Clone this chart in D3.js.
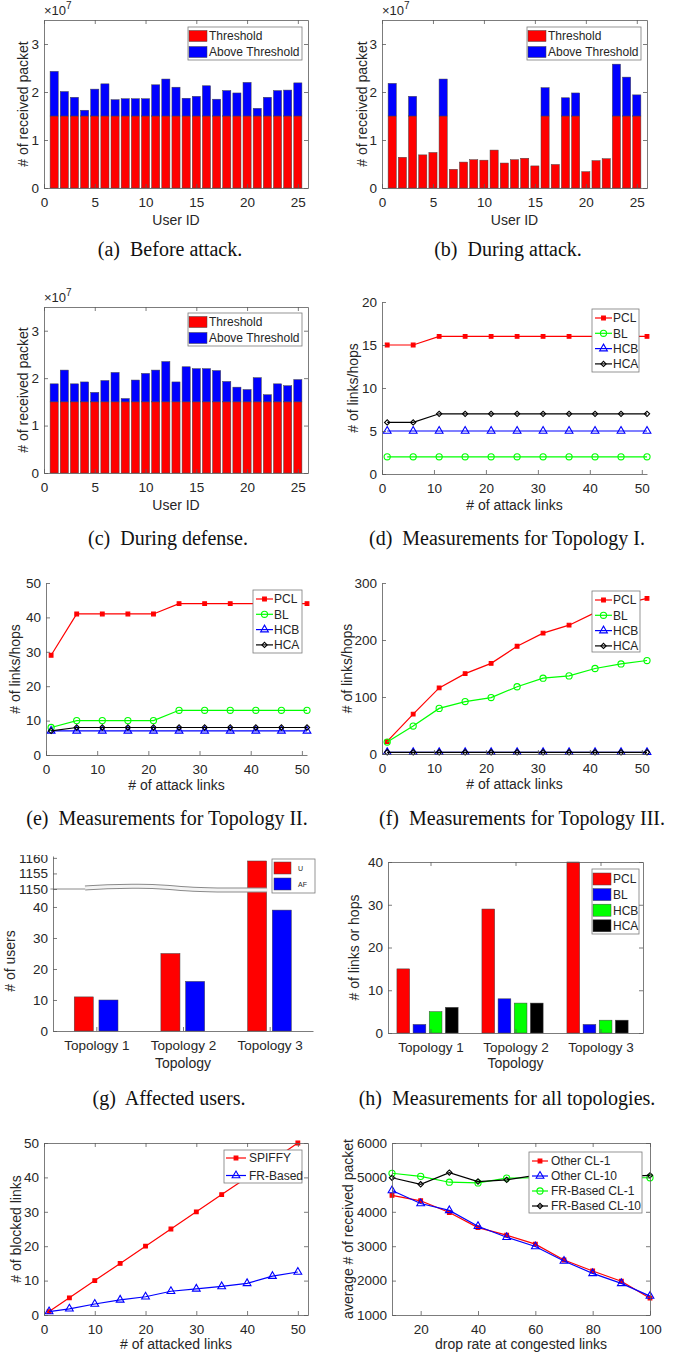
<!DOCTYPE html>
<html>
<head>
<meta charset="utf-8">
<script src="https://cdn.jsdelivr.net/npm/d3@7"></script>
<style>
body { margin: 0; background: #fff; }
</style>
</head>
<body>
<div id="figure"></div>
<script>
// ---------- data ----------
var userIds = [1, 2, 3, 4, 5, 6, 7, 8, 9, 10, 11, 12, 13, 14, 15, 16, 17, 18, 19, 20, 21, 22, 23, 24, 25];
var threshold = 1.5; // x10^7 packets
var beforeAttack = [2.43, 2.01, 1.89, 1.62, 2.06, 2.17, 1.84, 1.86, 1.86, 1.86, 2.15, 2.27, 2.10, 1.87, 1.91, 2.13, 1.85, 2.03, 1.98, 2.20, 1.66, 1.89, 2.03, 2.04, 2.19];
var duringAttack = [2.18, 0.64, 1.91, 0.69, 0.74, 2.27, 0.39, 0.54, 0.59, 0.58, 0.79, 0.52, 0.59, 0.62, 0.46, 2.09, 0.49, 1.88, 1.98, 0.34, 0.57, 0.61, 2.58, 2.31, 1.94];
var duringDefense = [1.88, 2.17, 1.88, 1.92, 1.70, 1.95, 2.12, 1.57, 1.96, 2.10, 2.17, 2.35, 1.92, 2.24, 2.20, 2.20, 2.16, 1.93, 1.81, 1.76, 2.01, 1.65, 1.88, 1.84, 1.97];

var attackLinks = [1, 6, 11, 16, 21, 26, 31, 36, 41, 46, 51];
var topo1PCL = [15, 15, 16, 16, 16, 16, 16, 16, 16, 16, 16];
var topo1BL  = [2, 2, 2, 2, 2, 2, 2, 2, 2, 2, 2];
var topo1HCB = [5, 5, 5, 5, 5, 5, 5, 5, 5, 5, 5];
var topo1HCA = [6, 6, 7, 7, 7, 7, 7, 7, 7, 7, 7];
var topo2PCL = [29, 41, 41, 41, 41, 44, 44, 44, 44, 44, 44];
var topo2BL  = [8, 10, 10, 10, 10, 13, 13, 13, 13, 13, 13];
var topo2HCB = [7, 7, 7, 7, 7, 7, 7, 7, 7, 7, 7];
var topo2HCA = [7, 8, 8, 8, 8, 8, 8, 8, 8, 8, 8];
var topo3PCL = [22, 70, 116, 141, 159, 189, 212, 226, 248, 262, 273];
var topo3BL  = [21, 49, 80, 92, 99, 118, 133, 137, 150, 158, 164];
var topo3HCB = [3, 3, 3, 3, 3, 3, 3, 3, 3, 3, 3];
var topo3HCA = [3, 3, 3, 3, 3, 3, 3, 3, 3, 3, 3];

var topologyNames = ["Topology 1", "Topology 2", "Topology 3"];
var affectedU  = [11, 25, 1159];
var affectedAF = [10, 16, 39];
var allPCL = [15, 29, 40];
var allBL  = [2, 8, 2];
var allHCB = [5, 7, 3];
var allHCA = [6, 7, 3];

var attackedLinks = [1, 5, 10, 15, 20, 25, 30, 35, 40, 45, 50];
var spiffyBlocked = [1, 5, 10, 15, 20, 25, 30, 35, 40, 45, 50];
var frBlocked     = [1, 1.8, 3.2, 4.4, 5.3, 6.9, 7.6, 8.3, 9.2, 11.3, 12.5];

var dropRates = [10, 20, 30, 40, 50, 60, 70, 80, 90, 100];
var otherCL1  = [4480, 4320, 3980, 3540, 3320, 3060, 2600, 2280, 1980, 1490];
var otherCL10 = [4620, 4240, 4040, 3580, 3260, 2990, 2570, 2210, 1920, 1550];
var frCL1     = [5120, 5030, 4860, 4840, 4980, 4990, 5000, 5010, 4990, 4990];
var frCL10    = [4990, 4800, 5140, 4880, 4930, 5060, 5030, 5040, 5020, 5060];

// ---------- styling ----------
var RED = "#ff0000", BLUE = "#0000ff", GREEN = "#00ff00", BLACK = "#000000";
var textColor = "#262626";
var axisColor = "#5a5a5a";
var sansFont = "'Liberation Sans', Arial, Helvetica, sans-serif";
var serifFont = "'Liberation Serif', 'Times New Roman', serif";
var plainNumber = d3.format("d");

var svg = d3.select("#figure").append("svg")
    .attr("width", 679)
    .attr("height", 1355)
    .style("background", "#fff");

function styleAxis(sel) {
    sel.attr("font-family", sansFont).attr("font-size", 13.5);
    sel.select(".domain").attr("stroke", axisColor).attr("stroke-width", 0.8);
    sel.selectAll(".tick line").attr("stroke", axisColor).attr("stroke-width", 0.8);
    sel.selectAll(".tick text").attr("fill", textColor);
}

// builds an axes box (MATLAB style, ticks pointing inward)
function makePanel(p) {
    var x = d3.scaleLinear().domain(p.xDomain).range([p.left, p.right]);
    var y = p.yScale || d3.scaleLinear().domain(p.yDomain).range([p.bottom, p.top]);
    var g = svg.append("g");
    var data = g.append("g");
    var axes = g.append("g");

    var xAxis = d3.axisBottom(x).tickValues(p.xTicks).tickSize(-4).tickSizeOuter(0).tickPadding(9)
        .tickFormat(p.xFormat || plainNumber);
    axes.append("g").attr("transform", "translate(0," + p.bottom + ")").call(xAxis).call(styleAxis);

    var yAxis = d3.axisLeft(y).tickValues(p.yTicks).tickSize(-4).tickSizeOuter(0).tickPadding(5)
        .tickFormat(plainNumber);
    var yAx = axes.append("g").attr("transform", "translate(" + p.left + ",0)").call(yAxis).call(styleAxis);
    if (p.yClip) yAx.attr("clip-path", "url(#" + p.yClip + ")");

    if (p.box) {
        axes.append("g").attr("transform", "translate(0," + p.top + ")")
            .call(d3.axisTop(x).tickValues(p.xTicks).tickSize(-4).tickSizeOuter(0).tickFormat(""))
            .call(styleAxis);
        axes.append("g").attr("transform", "translate(" + p.right + ",0)")
            .call(d3.axisRight(y).tickValues(p.yTicks).tickSize(-4).tickSizeOuter(0).tickFormat(""))
            .call(styleAxis);
    }

    // axis labels
    g.append("text")
        .attr("x", (p.left + p.right) / 2)
        .attr("y", p.bottom + p.xLabelOffset)
        .attr("text-anchor", "middle")
        .attr("font-family", sansFont)
        .attr("font-size", 14)
        .attr("fill", textColor)
        .text(p.xLabel);
    var ly = p.yLabelY || (p.top + p.bottom) / 2;
    g.append("text")
        .attr("transform", "translate(" + p.yLabelX + "," + ly + ") rotate(-90)")
        .attr("text-anchor", "middle")
        .attr("dy", "0.35em")
        .attr("font-family", sansFont)
        .attr("font-size", 14)
        .attr("fill", textColor)
        .text(p.yLabel);

    return { x: x, y: y, g: g, data: data, p: p };
}

function caption(cx, cy, label) {
    svg.append("text")
        .attr("x", cx)
        .attr("y", cy)
        .attr("text-anchor", "middle")
        .attr("font-family", serifFont)
        .attr("font-size", 20)
        .attr("fill", "#111")
        .style("white-space", "pre")
        .text(label);
}

function exponentLabel(panel) {
    var t = panel.g.append("text")
        .attr("x", panel.p.left)
        .attr("y", panel.p.top - 5)
        .attr("font-family", sansFont)
        .attr("font-size", 13)
        .attr("fill", textColor);
    t.append("tspan").text("\u00d710");
    t.append("tspan").attr("dy", -6).attr("font-size", 10).text("7");
}

function markerPath(shape) {
    if (shape === "square") return d3.symbol().type(d3.symbolSquare).size(14)();
    if (shape === "circle") return d3.symbol().type(d3.symbolCircle).size(30)();
    if (shape === "triangle") return d3.symbol().type(d3.symbolTriangle).size(26)();
    return d3.symbol().type(d3.symbolSquare).size(14)(); // diamond = rotated square
}

function drawMarker(sel, shape, color) {
    var filled = shape === "square";
    return sel.append("path")
        .attr("d", markerPath(shape))
        .attr("fill", filled ? color : "none")
        .attr("stroke", color)
        .attr("stroke-width", 1.1);
}

function lineSeries(panel, xs, ys, color, shape) {
    var line = d3.line()
        .x(function(d, i) { return panel.x(xs[i]); })
        .y(function(d) { return panel.y(d); });
    panel.data.append("path")
        .datum(ys)
        .attr("d", line)
        .attr("fill", "none")
        .attr("stroke", color)
        .attr("stroke-width", 1.2);
    ys.forEach(function(v, i) {
        var m = drawMarker(panel.data, shape, color);
        var tr = "translate(" + panel.x(xs[i]) + "," + panel.y(v) + ")";
        if (shape === "diamond") tr += " rotate(45)";
        m.attr("transform", tr);
    });
}

function stackedBars(panel, totals) {
    var bw = (panel.x(1) - panel.x(0)) * 0.8;
    panel.data.selectAll("rect.thr").data(totals).join("rect")
        .attr("class", "thr")
        .attr("x", function(d, i) { return panel.x(userIds[i]) - bw / 2; })
        .attr("y", function(d) { return panel.y(Math.min(d, threshold)); })
        .attr("width", bw)
        .attr("height", function(d) { return panel.y(0) - panel.y(Math.min(d, threshold)); })
        .attr("fill", RED)
        .attr("stroke", "#444")
        .attr("stroke-width", 0.5);
    var above = totals.map(function(d, i) { return { id: userIds[i], v: d }; })
        .filter(function(d) { return d.v > threshold; });
    panel.data.selectAll("rect.abv").data(above).join("rect")
        .attr("class", "abv")
        .attr("x", function(d) { return panel.x(d.id) - bw / 2; })
        .attr("y", function(d) { return panel.y(d.v); })
        .attr("width", bw)
        .attr("height", function(d) { return panel.y(threshold) - panel.y(d.v); })
        .attr("fill", BLUE)
        .attr("stroke", "#444")
        .attr("stroke-width", 0.5);
}

function groupedBars(panel, seriesList, colors, offsets, width) {
    var unit = panel.x(1) - panel.x(0);
    seriesList.forEach(function(vals, s) {
        panel.data.selectAll("rect.s" + s).data(vals).join("rect")
            .attr("class", "s" + s)
            .attr("x", function(d, i) { return panel.x(i + 1 + offsets[s]) - width * unit / 2; })
            .attr("y", function(d) { return panel.y(d); })
            .attr("width", width * unit)
            .attr("height", function(d) { return panel.y.range()[0] - panel.y(d); })
            .attr("fill", colors[s])
            .attr("stroke", "#444")
            .attr("stroke-width", 0.5);
    });
}

// legend: items have label, color and either "swatch" or a marker shape
function legend(g, box, items, opt) {
    var lg = g.append("g");
    lg.append("rect")
        .attr("x", box.x).attr("y", box.y)
        .attr("width", box.w).attr("height", box.h)
        .attr("fill", "#fff")
        .attr("stroke", "#7a7a7a")
        .attr("stroke-width", 0.8);
    items.forEach(function(it, i) {
        var cy = box.y + opt.first + i * opt.row;
        if (it.shape === "swatch") {
            lg.append("rect")
                .attr("x", box.x + opt.s0).attr("y", cy - opt.sh / 2)
                .attr("width", opt.s1 - opt.s0).attr("height", opt.sh)
                .attr("fill", it.color)
                .attr("stroke", "#444").attr("stroke-width", 0.5);
        } else {
            lg.append("line")
                .attr("x1", box.x + opt.s0).attr("x2", box.x + opt.s1)
                .attr("y1", cy).attr("y2", cy)
                .attr("stroke", it.color).attr("stroke-width", 1.2);
            var m = drawMarker(lg, it.shape, it.color);
            var tr = "translate(" + (box.x + (opt.s0 + opt.s1) / 2) + "," + cy + ")";
            if (it.shape === "diamond") tr += " rotate(45)";
            m.attr("transform", tr);
        }
        lg.append("text")
            .attr("x", box.x + opt.tx)
            .attr("y", cy)
            .attr("dy", "0.36em")
            .attr("font-family", sansFont)
            .attr("font-size", opt.font)
            .attr("fill", textColor)
            .text(it.label);
    });
}

var fourLines = [
    { label: "PCL", color: RED, shape: "square" },
    { label: "BL", color: GREEN, shape: "circle" },
    { label: "HCB", color: BLUE, shape: "triangle" },
    { label: "HCA", color: BLACK, shape: "diamond" }
];
var fourLineOpt = { first: 9, row: 15.3, s0: 3, s1: 20, tx: 21, font: 12 };
var thresholdItems = [
    { label: "Threshold", color: RED, shape: "swatch" },
    { label: "Above Threshold", color: BLUE, shape: "swatch" }
];
var thresholdOpt = { first: 9, row: 16, s0: 1, s1: 19, sh: 11, tx: 21, font: 12 };

// ---------- (a) before attack ----------
var userTicks = [0, 5, 10, 15, 20, 25];
var pa = makePanel({ left: 44, right: 308, top: 20, bottom: 188, xDomain: [0, 26], yDomain: [0, 3.5],
    xTicks: userTicks, yTicks: [0, 1, 2, 3], box: true, xLabel: "User ID", xLabelOffset: 37,
    yLabel: "# of received packet", yLabelX: 23 });
stackedBars(pa, beforeAttack);
exponentLabel(pa);
legend(pa.g, { x: 188, y: 27, w: 114, h: 33 }, thresholdItems, thresholdOpt);
caption(170, 256, "(a)  Before attack.");

// ---------- (b) during attack ----------
var pb = makePanel({ left: 382, right: 647, top: 20, bottom: 188, xDomain: [0, 26], yDomain: [0, 3.5],
    xTicks: userTicks, yTicks: [0, 1, 2, 3], box: true, xLabel: "User ID", xLabelOffset: 37,
    yLabel: "# of received packet", yLabelX: 362 });
stackedBars(pb, duringAttack);
exponentLabel(pb);
legend(pb.g, { x: 527, y: 27, w: 114, h: 33 }, thresholdItems, thresholdOpt);
caption(508, 256, "(b)  During attack.");

// ---------- (c) during defense ----------
var pc = makePanel({ left: 44, right: 308, top: 307, bottom: 473, xDomain: [0, 26], yDomain: [0, 3.5],
    xTicks: userTicks, yTicks: [0, 1, 2, 3], box: true, xLabel: "User ID", xLabelOffset: 37,
    yLabel: "# of received packet", yLabelX: 23 });
stackedBars(pc, duringDefense);
exponentLabel(pc);
legend(pc.g, { x: 188, y: 313, w: 114, h: 33 }, thresholdItems, thresholdOpt);
caption(168, 545, "(c)  During defense.");

// ---------- (d) topology I ----------
var linkTicks = [0, 10, 20, 30, 40, 50];
var pd = makePanel({ left: 382, right: 647, top: 302, bottom: 474, xDomain: [0, 51], yDomain: [0, 20],
    xTicks: linkTicks, yTicks: [0, 5, 10, 15, 20], box: false, xLabel: "# of attack links", xLabelOffset: 36,
    yLabel: "# of links/hops", yLabelX: 353 });
lineSeries(pd, attackLinks, topo1PCL, RED, "square");
lineSeries(pd, attackLinks, topo1BL, GREEN, "circle");
lineSeries(pd, attackLinks, topo1HCB, BLUE, "triangle");
lineSeries(pd, attackLinks, topo1HCA, BLACK, "diamond");
legend(pd.g, { x: 592, y: 309, w: 47, h: 63 }, fourLines, fourLineOpt);
caption(507, 545, "(d)  Measurements for Topology I.");

// ---------- (e) topology II ----------
var pe = makePanel({ left: 46, right: 307, top: 583, bottom: 755, xDomain: [0, 51], yDomain: [0, 50],
    xTicks: linkTicks, yTicks: [0, 10, 20, 30, 40, 50], box: false, xLabel: "# of attack links", xLabelOffset: 35,
    yLabel: "# of links/hops", yLabelX: 15 });
lineSeries(pe, attackLinks, topo2PCL, RED, "square");
lineSeries(pe, attackLinks, topo2BL, GREEN, "circle");
lineSeries(pe, attackLinks, topo2HCB, BLUE, "triangle");
lineSeries(pe, attackLinks, topo2HCA, BLACK, "diamond");
legend(pe.g, { x: 253, y: 590, w: 49, h: 63 }, fourLines, fourLineOpt);
caption(167, 825, "(e)  Measurements for Topology II.");

// ---------- (f) topology III ----------
var pf = makePanel({ left: 382, right: 647, top: 583, bottom: 754, xDomain: [0, 51], yDomain: [0, 300],
    xTicks: linkTicks, yTicks: [0, 100, 200, 300], box: false, xLabel: "# of attack links", xLabelOffset: 35,
    yLabel: "# of links/hops", yLabelX: 347 });
lineSeries(pf, attackLinks, topo3PCL, RED, "square");
lineSeries(pf, attackLinks, topo3BL, GREEN, "circle");
lineSeries(pf, attackLinks, topo3HCB, BLUE, "triangle");
lineSeries(pf, attackLinks, topo3HCA, BLACK, "diamond");
legend(pf.g, { x: 592, y: 591, w: 48, h: 61 }, fourLines, fourLineOpt);
caption(522, 825, "(f)  Measurements for Topology III.");

// ---------- (g) affected users (broken y axis) ----------
// clip rect is in the y-axis group's local coords (translated by the panel's left edge)
svg.append("clipPath").attr("id", "clipG")
    .append("rect").attr("x", -60).attr("y", 855).attr("width", 120).attr("height", 200);
var yBroken = d3.scaleLinear()
    .domain([0, 45.8, 1150, 1160.6])
    .range([1031, 889, 889, 856]);
var pg = makePanel({ left: 53, right: 313, top: 856, bottom: 1031, xDomain: [0.5, 3.5], yScale: yBroken,
    xTicks: [1, 2, 3], xFormat: function(d) { return topologyNames[d - 1]; },
    yTicks: [0, 10, 20, 30, 40, 1150, 1155, 1160], yClip: "clipG", box: false,
    xLabel: "Topology", xLabelOffset: 37, yLabel: "# of users", yLabelX: 10, yLabelY: 961 });
groupedBars(pg, [affectedU, affectedAF], [RED, BLUE], [-0.145, 0.14], 0.22);

// wavy break marker across the axis
var yBreak = yBroken(1150);
var straight = [[0.47, 0], [0.87, 0]];
var wave = [[0.87, -1], [1.1, -2.5], [1.5, -3], [1.8, -2], [2.1, 0.5], [2.5, 1.2], [2.97, 1]];
pg.data.append("path")
    .attr("d", d3.line()(straight.map(function(d) { return [pg.x(d[0]), yBreak + d[1]]; })))
    .attr("stroke", "#8a8a8a").attr("stroke-width", 1).attr("fill", "none");
var waveLine = d3.line().curve(d3.curveBasis);
var wavePts = wave.map(function(d) { return [pg.x(d[0]), yBreak + d[1]]; });
pg.data.append("path").attr("d", waveLine(wavePts))
    .attr("stroke", "#8a8a8a").attr("stroke-width", 5).attr("fill", "none");
pg.data.append("path").attr("d", waveLine(wavePts))
    .attr("stroke", "#f4f4f4").attr("stroke-width", 3).attr("fill", "none");
legend(pg.g, { x: 272, y: 859, w: 43, h: 34 },
    [{ label: "U", color: RED, shape: "swatch" }, { label: "AF", color: BLUE, shape: "swatch" }],
    { first: 9, row: 16, s0: 2, s1: 19, sh: 12, tx: 26, font: 7 });
caption(169, 1105, "(g)  Affected users.");

// ---------- (h) all topologies ----------
var ph = makePanel({ left: 388, right: 643, top: 862, bottom: 1033, xDomain: [0.5, 3.5], yDomain: [0, 40],
    xTicks: [1, 2, 3], xFormat: function(d) { return topologyNames[d - 1]; },
    yTicks: [0, 10, 20, 30, 40], box: true, xLabel: "Topology", xLabelOffset: 35,
    yLabel: "# of links or hops", yLabelX: 354 });
groupedBars(ph, [allPCL, allBL, allHCB, allHCA], [RED, BLUE, GREEN, BLACK],
    [-0.32, -0.13, 0.06, 0.25], 0.15);
legend(ph.g, { x: 592, y: 869, w: 47, h: 65 },
    [{ label: "PCL", color: RED, shape: "swatch" }, { label: "BL", color: BLUE, shape: "swatch" },
     { label: "HCB", color: GREEN, shape: "swatch" }, { label: "HCA", color: BLACK, shape: "swatch" }],
    { first: 10, row: 15.6, s0: 1, s1: 19, sh: 12, tx: 21, font: 12 });
caption(507, 1105, "(h)  Measurements for all topologies.");

// ---------- (i) blocked links ----------
var pi = makePanel({ left: 44, right: 308, top: 1143, bottom: 1315, xDomain: [0, 52], yDomain: [0, 50],
    xTicks: linkTicks, yTicks: [0, 10, 20, 30, 40, 50], box: true, xLabel: "# of attacked links", xLabelOffset: 34,
    yLabel: "# of blocked links", yLabelX: 16 });
lineSeries(pi, attackedLinks, spiffyBlocked, RED, "square");
lineSeries(pi, attackedLinks, frBlocked, BLUE, "triangle");
legend(pi.g, { x: 224, y: 1150, w: 78, h: 33 },
    [{ label: "SPIFFY", color: RED, shape: "square" }, { label: "FR-Based", color: BLUE, shape: "triangle" }],
    { first: 8, row: 17.5, s0: 2, s1: 22, tx: 25, font: 12 });

// ---------- (j) received packets vs drop rate ----------
var pj = makePanel({ left: 392, right: 650, top: 1143, bottom: 1315, xDomain: [10, 100], yDomain: [1000, 6000],
    xTicks: [20, 40, 60, 80, 100], yTicks: [1000, 2000, 3000, 4000, 5000, 6000], box: true,
    xLabel: "drop rate at congested links", xLabelOffset: 34,
    yLabel: "average # of received packet", yLabelX: 348 });
lineSeries(pj, dropRates, otherCL1, RED, "square");
lineSeries(pj, dropRates, otherCL10, BLUE, "triangle");
lineSeries(pj, dropRates, frCL1, GREEN, "circle");
lineSeries(pj, dropRates, frCL10, BLACK, "diamond");
legend(pj.g, { x: 529, y: 1152, w: 113, h: 61 },
    [{ label: "Other CL-1", color: RED, shape: "square" }, { label: "Other CL-10", color: BLUE, shape: "triangle" },
     { label: "FR-Based CL-1", color: GREEN, shape: "circle" }, { label: "FR-Based CL-10", color: BLACK, shape: "diamond" }],
    { first: 9, row: 15, s0: 3, s1: 19, tx: 22, font: 12 });
</script>
</body>
</html>
